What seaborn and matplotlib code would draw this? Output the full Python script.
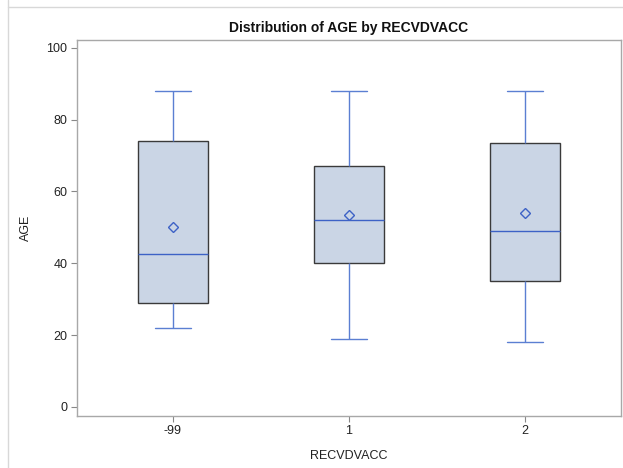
import pandas as pd
import matplotlib.pyplot as plt
from matplotlib.lines import Line2D
import seaborn as sns

# AGE values per RECVDVACC group (chosen to reproduce the quartiles, whiskers and means)
grp_m99 = [22, 25, 29, 35, 42.5, 55, 74, 79.5, 88]
grp_1 = [19, 30, 40, 46, 52, 60, 67, 79.5, 88]
grp_2 = [18, 27, 35, 42, 49, 70, 73.5, 83.5, 88]
categories = ["-99", "1", "2"]

data = pd.DataFrame({
    "RECVDVACC": [categories[0]] * len(grp_m99) + [categories[1]] * len(grp_1) + [categories[2]] * len(grp_2),
    "AGE": grp_m99 + grp_1 + grp_2,
})

sns.set_style("white")
plt.rcParams["font.family"] = ["Liberation Sans", "DejaVu Sans"]

fig = plt.figure(figsize=(6.23, 4.68), dpi=100)
ax = fig.add_axes([77 / 623, 1 - 415.5 / 468, (621 - 77) / 623, (415.5 - 40.5) / 468])

blue = "#3D62C6"
sns.boxplot(x="RECVDVACC", y="AGE", data=data, order=categories, width=0.40,
            color="#CAD5E5", linewidth=1.0, showmeans=True, whis=1.5,
            boxprops=dict(facecolor="#CAD5E5", edgecolor="#3a3a3a", linewidth=1.0),
            medianprops=dict(color=blue, linewidth=1.0),
            whiskerprops=dict(color="#5B7FD2", linewidth=1.0),
            capprops=dict(color="#5B7FD2", linewidth=1.0),
            meanprops=dict(marker="D", markerfacecolor="none", markeredgecolor=blue,
                           markersize=5.5, markeredgewidth=1.0),
            ax=ax)

ax.set_xlim(-0.545, 2.545)
ax.set_ylim(-2.4, 102)
ax.set_yticks([0, 20, 40, 60, 80, 100])
for s in ax.spines.values():
    s.set_color("#A8A8A8")
    s.set_linewidth(1.0)
ax.tick_params(axis="both", direction="out", length=4, width=0.8, color="#888888",
               labelsize=9, labelcolor="#222222", left=True, bottom=True, pad=3)
ax.set_title("Distribution of AGE by RECVDVACC", fontsize=10, fontweight="bold", pad=6, color="#111111")
ax.set_xlabel("RECVDVACC", fontsize=9, color="#222222", labelpad=9)
ax.set_ylabel("AGE", fontsize=9, color="#222222", labelpad=10)

# screenshot frame lines
fig.add_artist(Line2D([8 / 623, 8 / 623], [0, 1], color="#D8D8D8", linewidth=1.0, transform=fig.transFigure))
fig.add_artist(Line2D([8 / 623, 1], [1 - 7 / 468, 1 - 7 / 468], color="#D8D8D8", linewidth=1.0, transform=fig.transFigure))

fig.savefig("out.png", dpi=100)
